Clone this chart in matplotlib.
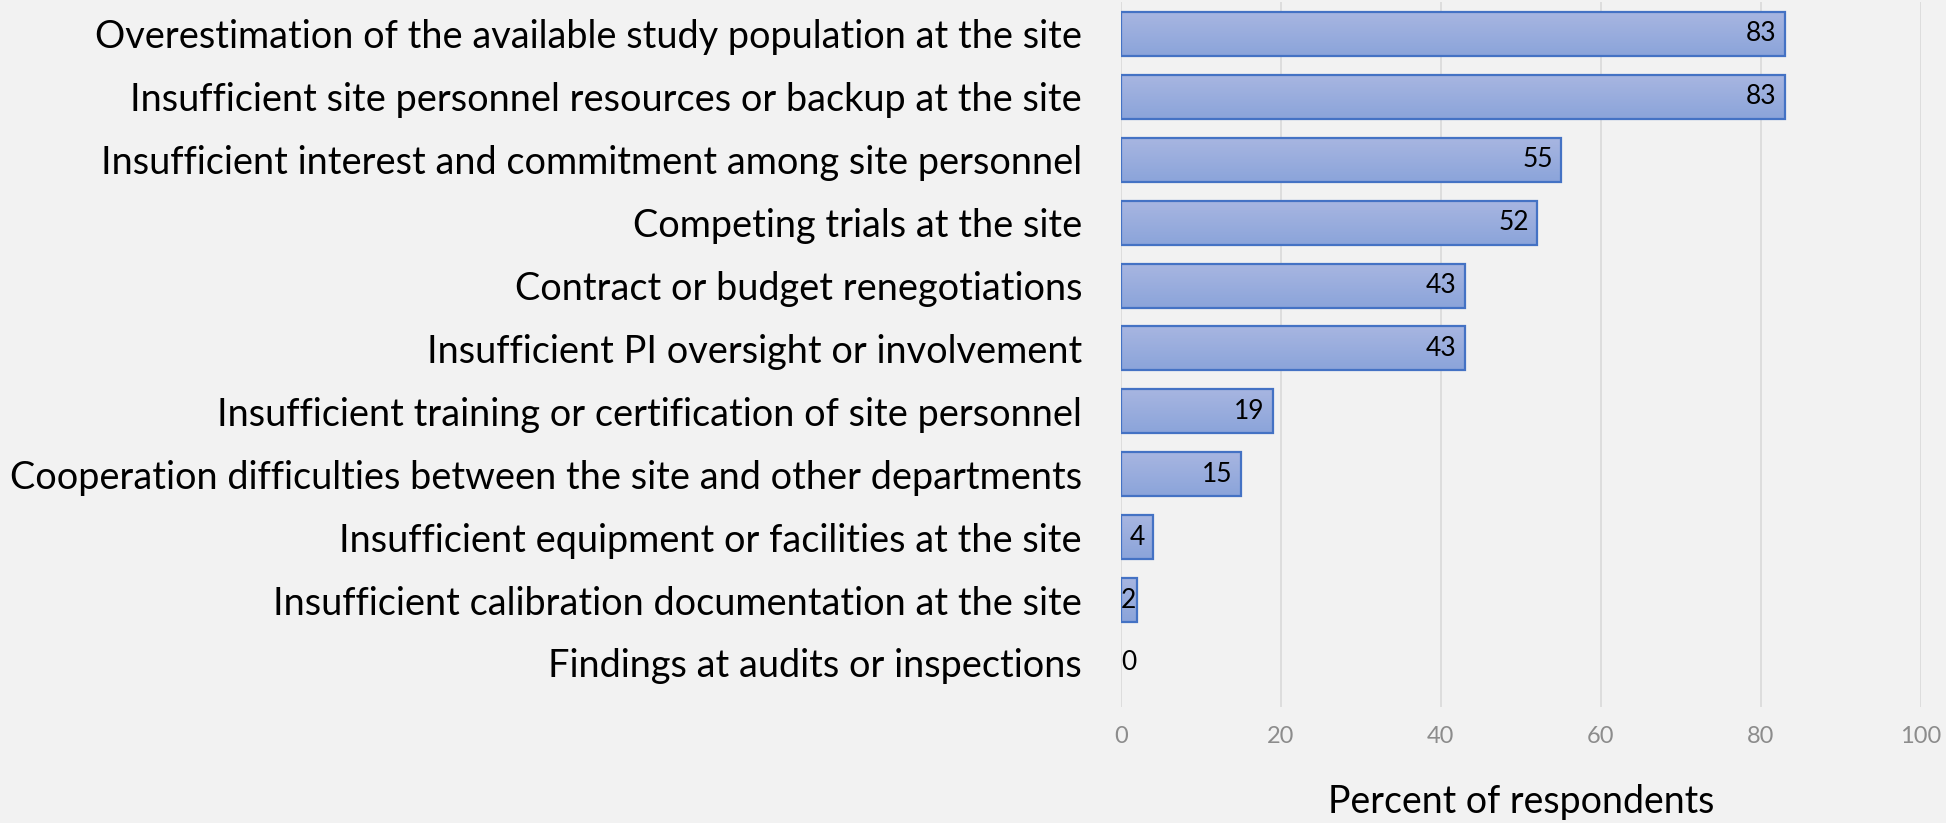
import matplotlib
matplotlib.use("Agg")
from matplotlib import pyplot as plt
import numpy as np

categories = [
    "Overestimation of the available study population at the site",
    "Insufficient site personnel resources or backup at the site",
    "Insufficient interest and commitment among site personnel",
    "Competing trials at the site",
    "Contract or budget renegotiations",
    "Insufficient PI oversight or involvement",
    "Insufficient training or certification of site personnel",
    "Cooperation difficulties between the site and other departments",
    "Insufficient equipment or facilities at the site",
    "Insufficient calibration documentation at the site",
    "Findings at audits or inspections",
]
values = [83, 83, 55, 52, 43, 43, 19, 15, 4, 2, 0]
xticks = [0, 20, 40, 60, 80, 100]

plt.rcParams['font.family'] = ['Lato', 'DejaVu Sans']

bg = '#f2f2f2'
fig = plt.figure(figsize=(19.46, 8.23), dpi=100, facecolor=bg)
ax = fig.add_axes([0.576, 0.141, 0.411, 0.856], facecolor=bg)

y = np.arange(len(categories))
bars = ax.barh(y, values, height=0.7, color='none', edgecolor='#4472c4',
               linewidth=1.6, zorder=3)

# vertical gradient fill inside each bar
grad = np.linspace(0, 1, 64).reshape(-1, 1)
cmap = matplotlib.colors.LinearSegmentedColormap.from_list('g', ['#a8b6e1', '#8ba4da'])
for b in bars:
    if b.get_width() <= 0:
        b.set_linewidth(0)
        continue
    x0, y0 = b.get_x(), b.get_y()
    im = ax.imshow(grad, cmap=cmap, aspect='auto', zorder=2,
                   extent=[x0, x0 + b.get_width(), y0 + b.get_height(), y0])
    im.set_clip_path(b)

for yi, v in zip(y, values):
    xpos = max(v - 1.0, 1.9)
    ax.text(xpos, yi, str(v), ha='right', va='center', fontsize=19,
            color='black', zorder=4)

ax.set_xlim(0, 100)
ax.set_ylim(10.7, -0.5)
ax.set_xticks(xticks)
ax.set_xticklabels([str(t) for t in xticks], color='#8c8c8c', fontsize=17)
ax.set_yticks(y)
ax.set_yticklabels(categories, fontsize=27.3)
ax.tick_params(axis='both', length=0)
ax.tick_params(axis='x', pad=14)
ax.tick_params(axis='y', pad=28)
ax.grid(axis='x', color='#d9d9d9', linewidth=1.2, zorder=0)
for s in ax.spines.values():
    s.set_visible(False)

ax.set_xlabel('Percent of respondents', fontsize=27, labelpad=26)

fig.savefig('out.png', dpi=100, facecolor=bg)
